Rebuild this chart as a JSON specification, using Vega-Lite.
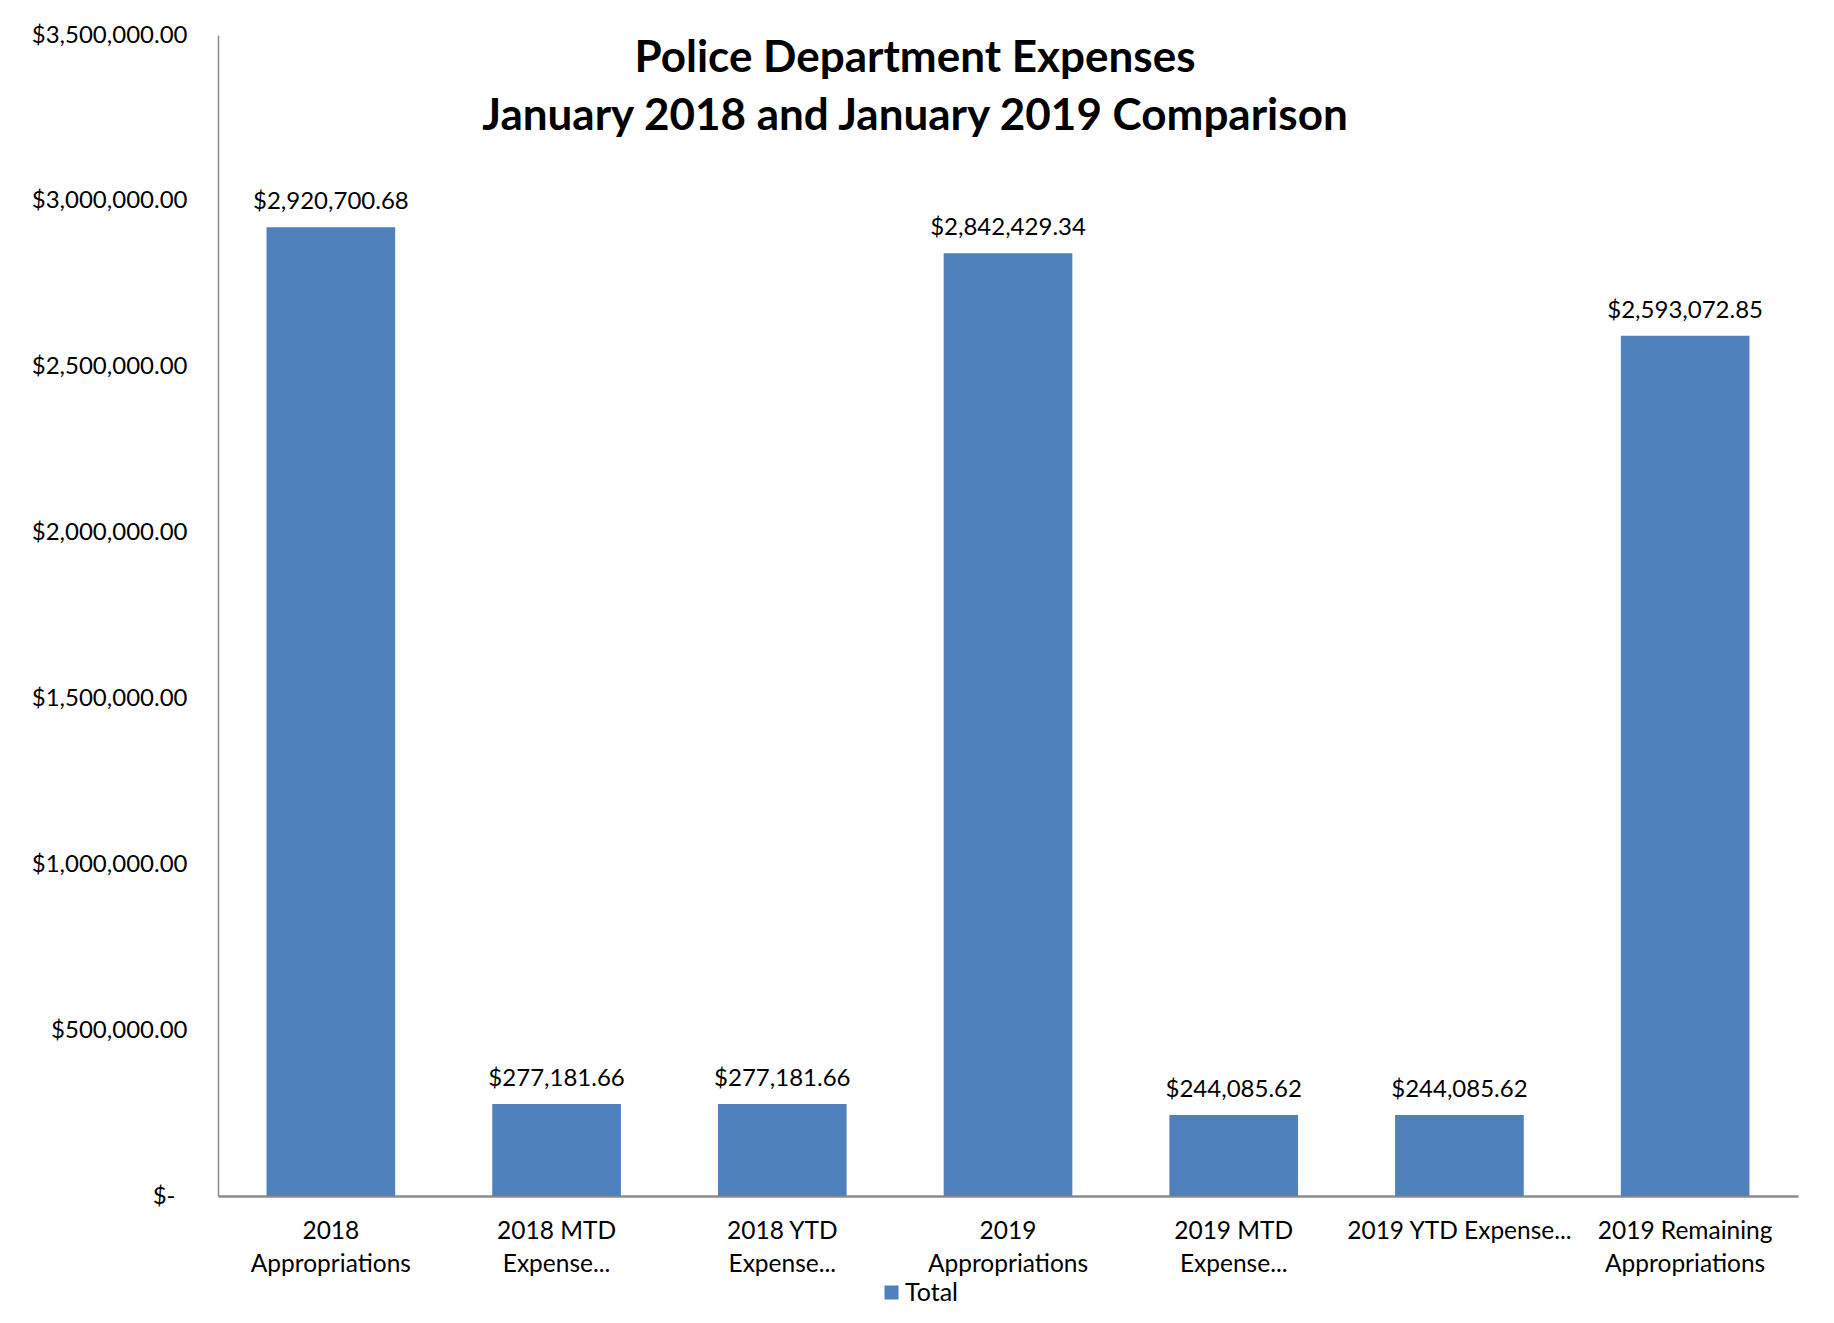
{
  "$schema": "https://vega.github.io/schema/vega-lite/v6.json",
  "autosize": {"type": "none"},
  "width": 1580,
  "height": 1161,
  "padding": {"left": 218, "top": 35, "right": 36, "bottom": 127},
  "background": "white",
  "title": {
    "text": ["Police Department Expenses", "January 2018 and January 2019 Comparison"],
    "font": "Lato",
    "fontSize": 44,
    "fontWeight": "bold",
    "color": "black",
    "lineHeight": 58,
    "anchor": "middle",
    "baseline": "top",
    "offset": 0,
    "dx": -93,
    "dy": 116
  },
  "data": {
    "values": [
      {"category": "2018 Appropriations", "series": "Total", "amount": 2920700.68},
      {"category": "2018 MTD Expense...", "series": "Total", "amount": 277181.66},
      {"category": "2018 YTD Expense...", "series": "Total", "amount": 277181.66},
      {"category": "2019 Appropriations", "series": "Total", "amount": 2842429.34},
      {"category": "2019 MTD Expense...", "series": "Total", "amount": 244085.62},
      {"category": "2019 YTD Expense...", "series": "Total", "amount": 244085.62},
      {"category": "2019 Remaining Appropriations", "series": "Total", "amount": 2593072.85}
    ]
  },
  "encoding": {
    "x": {
      "field": "category",
      "type": "nominal",
      "sort": null,
      "scale": {"paddingInner": 0.43, "paddingOuter": 0.215},
      "axis": {
        "title": null,
        "labelAngle": 0,
        "labelFont": "Lato",
        "labelFontSize": 24.5,
        "labelColor": "black",
        "labelPadding": 23,
        "labelLineHeight": 33,
        "labelBaseline": "top",
        "labelLimit": 0,
        "ticks": false,
        "domainColor": "#8c8c8c",
        "domainWidth": 2.5,
        "labelExpr": "datum.label == '2018 Appropriations' ? ['2018', 'Appropriations'] : datum.label == '2018 MTD Expense...' ? ['2018 MTD', 'Expense...'] : datum.label == '2018 YTD Expense...' ? ['2018 YTD', 'Expense...'] : datum.label == '2019 Appropriations' ? ['2019', 'Appropriations'] : datum.label == '2019 MTD Expense...' ? ['2019 MTD', 'Expense...'] : datum.label == '2019 Remaining Appropriations' ? ['2019 Remaining', 'Appropriations'] : datum.label"
      }
    },
    "y": {
      "field": "amount",
      "type": "quantitative",
      "scale": {"domain": [0, 3500000], "nice": false},
      "axis": {
        "title": null,
        "values": [0, 500000, 1000000, 1500000, 2000000, 2500000, 3000000, 3500000],
        "grid": false,
        "ticks": false,
        "labelFont": "Lato",
        "labelFontSize": 24,
        "labelColor": "black",
        "labelPadding": {"condition": {"test": "datum.value == 0", "value": 43}, "value": 31},
        "domainColor": "#8c8c8c",
        "domainWidth": 1.5,
        "labelExpr": "datum.value == 0 ? '$-' : format(datum.value, '$,.2f')"
      }
    }
  },
  "layer": [
    {
      "mark": {"type": "bar", "color": "#4F81BD"},
      "encoding": {
        "color": {
          "field": "series",
          "type": "nominal",
          "scale": {"range": ["#4F81BD"]},
          "legend": {
            "title": null,
            "orient": "none",
            "legendX": 661,
            "legendY": 1245,
            "symbolType": "square",
            "symbolSize": 196,
            "symbolStrokeWidth": 0,
            "symbolOpacity": 1,
            "labelFont": "Lato",
            "labelFontSize": 25,
            "labelColor": "black",
            "labelOffset": 1
          }
        }
      }
    },
    {
      "mark": {
        "type": "text",
        "font": "Lato",
        "fontSize": 24,
        "color": "black",
        "baseline": "alphabetic",
        "dy": -18
      },
      "encoding": {
        "text": {"field": "amount", "type": "quantitative", "format": "$,.2f"}
      }
    }
  ],
  "config": {
    "view": {"stroke": null}
  }
}
